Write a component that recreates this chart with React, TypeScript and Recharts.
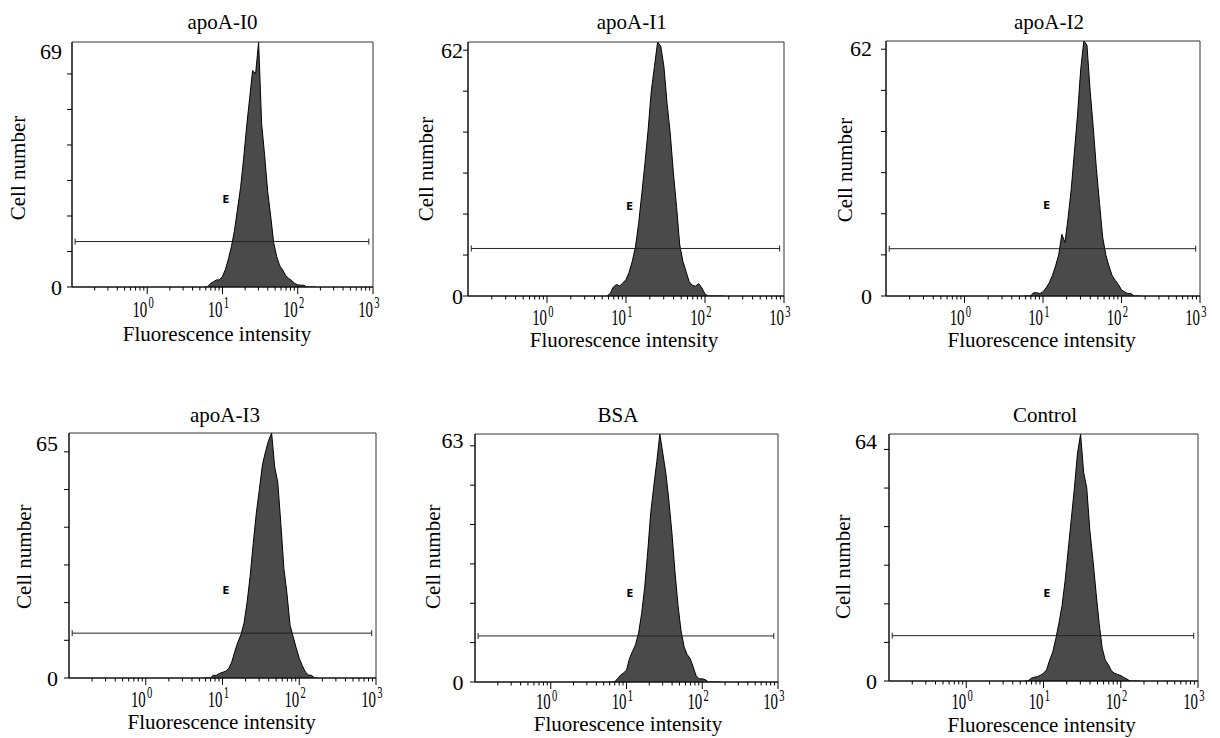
import { ComposedChart, Area, XAxis, YAxis, ReferenceLine, ReferenceDot, ReferenceArea } from 'recharts';

// log-spaced channel centres (0.04 decade apart)
const BINS = [5.75, 6.31, 6.92, 7.59, 8.32, 9.12, 10, 10.96, 12.02, 13.18, 14.45, 15.85, 17.38, 19.05, 20.89, 22.91, 25.12, 27.54, 30.2, 33.11, 36.31, 39.81, 43.65, 47.86, 52.48, 57.54, 63.1, 69.18, 75.86, 83.18, 91.2, 100, 109.6, 120.2, 131.8, 144.5, 158.5, 173.8];

const apoAI0 = [0, 0, 1, 1.5, 2, 2, 3, 5, 8, 11.5, 16, 22, 28, 36, 45, 53, 61, 60, 69, 46, 37, 27, 20, 12.5, 8.6, 6, 4.8, 3.2, 2.4, 1.8, 1, 0.6, 0.5, 0.5, 0, 0, 0, 0];
const apoAI1 = [0, 0.6, 2.2, 2.8, 2.4, 3.2, 4, 5.8, 8.5, 12, 17.7, 25, 32.4, 40.5, 50, 56, 62, 61, 56, 47, 39.7, 30, 21.8, 12.5, 8.5, 6, 3.5, 2.6, 2.4, 3, 2, 0.5, 0, 0, 0, 0, 0, 0];
const apoAI2 = [0, 0, 0, 0.8, 0.8, 0.6, 1, 2, 3.2, 5, 7.3, 10, 15, 13, 19, 26, 35, 44, 55, 62, 61, 50, 41, 31, 22.5, 14.3, 10, 7.3, 5, 3.8, 2.8, 1.5, 1, 0.6, 0.6, 0, 0, 0];
const apoAI3 = [0, 0, 0, 0.7, 0.7, 1.2, 1.5, 1.8, 2.5, 4.2, 7, 9.5, 11.5, 14.5, 20, 27, 35.6, 43.6, 50, 56.5, 60, 63, 65, 56, 52, 41, 29, 22.4, 14, 11, 8, 5.2, 3.3, 1.6, 0.8, 0.7, 0, 0];
const bsa = [0, 0, 0, 0.8, 1.7, 2.3, 3, 6, 7.8, 9.5, 12.5, 17.4, 24, 33, 43, 49.7, 56, 63, 58, 53, 46, 37.8, 28, 19.5, 13, 9, 7, 6, 3.8, 1.5, 0.8, 0.8, 0.6, 0, 0, 0, 0, 0];
const control = [0, 0, 0.7, 1, 1.1, 1.5, 2, 2.9, 5.4, 7.5, 11, 15, 19.5, 26, 34, 42, 50, 59, 64, 54, 50, 39, 31.4, 23, 15, 8.5, 5.4, 4.2, 2.6, 2, 1.7, 1.4, 0.9, 0.5, 0, 0, 0, 0];

const TITLES = ['apoA-I0', 'apoA-I1', 'apoA-I2', 'apoA-I3', 'BSA', 'Control'];
const SERIES = [apoAI0, apoAI1, apoAI2, apoAI3, bsa, control];
const Y_MAX = [69, 62, 62, 65, 63, 64];
const GATE_Y = [12.8, 11.6, 11.5, 11.9, 11.7, 11.75];
const GATE_X = [0.11, 880];
const MARK_X = 11.1;
const MARK_Y = [24.6, 21.9, 22, 23.1, 22.5, 22.75];

const MAJOR_TICKS = [1, 10, 100, 1000];
const MINOR_TICKS = [0.2, 0.3, 0.4, 0.5, 0.6, 0.7, 0.8, 0.9, 2, 3, 4, 5, 6, 7, 8, 9, 20, 30, 40, 50, 60, 70, 80, 90, 200, 300, 400, 500, 600, 700, 800, 900];
const X_TICKS = [...MINOR_TICKS, ...MAJOR_TICKS].sort((a, b) => a - b);
const Y_STEPS = [0, 10, 20, 30, 40, 50, 60];

const SERIF = '"Liberation Serif", "Times New Roman", serif';

// plot boxes and text placement, page pixels
const LAYOUT = [
  { left: 72, top: 42, w: 301, h: 245, gap: 10, topDy: 9, tickDy: 29.5, title: [222.5, 29], xt: [217, 341], yt: [25, 168] },
  { left: 468, top: 42, w: 316, h: 254, gap: 5, topDy: 8, tickDy: 29, title: [631.7, 29], xt: [624, 347], yt: [433.3, 169] },
  { left: 886, top: 41, w: 314, h: 255, gap: 14, topDy: 7, tickDy: 29, title: [1049, 28.5], xt: [1041.7, 347], yt: [851.7, 170] },
  { left: 69, top: 433, w: 307, h: 245, gap: 11, topDy: 10.5, tickDy: 28.5, title: [225, 421.5], xt: [221.7, 729], yt: [30.7, 556.7] },
  { left: 475, top: 434, w: 303, h: 248, gap: 11.5, topDy: 6, tickDy: 27, title: [618, 421.5], xt: [628, 731], yt: [440, 556.7] },
  { left: 889, top: 434, w: 309, h: 247, gap: 12, topDy: 7.5, tickDy: 28, title: [1045, 421.5], xt: [1041.7, 732], yt: [850, 566.7] },
];

const AXIS_W = 72;
const TOP_PAD = 42;
const X_AXIS_H = 40;
const RIGHT_PAD = 30;

function XTick(props: any) {
  const { x, y, payload, dy } = props;
  const v = payload.value;
  const exp = Math.round(Math.log10(v));
  const major = Math.abs(Math.log10(v) - exp) < 1e-6;
  return (
    <g>
      <line x1={x} x2={x} y1={y} y2={y + (major ? 7 : 3.5)} stroke="#000" strokeWidth={1} />
      {major && (
        <text transform={`translate(${x},${y + dy}) scale(0.62,1)`} fontFamily={SERIF} fontSize={24} fill="#000">
          <tspan x={-24}>10</tspan>
          <tspan dx={2} dy={-8.5} fontSize={17}>{exp}</tspan>
        </text>
      )}
    </g>
  );
}

function YTick(props: any) {
  const { x, y, payload, max, gap, topDy } = props;
  const v = payload.value;
  const isMax = v === max;
  return (
    <g>
      {!isMax && <line x1={x - 5} x2={x} y1={y} y2={y} stroke="#000" strokeWidth={1} />}
      {(v === 0 || isMax) && (
        <text x={x - gap} y={y + 7.5 + (isMax ? topDy : 0)} textAnchor="end" fontFamily={SERIF} fontSize={22} fill="#000">
          {v}
        </text>
      )}
    </g>
  );
}

function Histogram({ idx }: { idx: number }) {
  const L = LAYOUT[idx];
  const max = Y_MAX[idx];
  const data = BINS.map((b, i) => ({ x: b, y: SERIES[idx][i] }));
  const cap = (3 * max) / L.h;
  const g = GATE_Y[idx];
  return (
    <div style={{ position: 'absolute', left: L.left - AXIS_W, top: L.top - TOP_PAD }}>
      <ComposedChart
        width={AXIS_W + L.w + RIGHT_PAD}
        height={TOP_PAD + L.h + X_AXIS_H}
        data={data}
        margin={{ top: TOP_PAD, right: RIGHT_PAD, left: 0, bottom: 0 }}
      >
        <XAxis
          type="number"
          dataKey="x"
          scale="log"
          domain={[0.1, 1000]}
          allowDataOverflow
          ticks={X_TICKS}
          interval={0}
          height={X_AXIS_H}
          tickSize={0}
          tickMargin={0}
          tickLine={false}
          axisLine={{ stroke: '#000' }}
          tick={(p: any) => <XTick {...p} dy={L.tickDy} />}
        />
        <YAxis
          type="number"
          domain={[0, max]}
          allowDataOverflow
          ticks={[...Y_STEPS, max]}
          interval={0}
          width={AXIS_W}
          tickSize={0}
          tickMargin={0}
          tickLine={false}
          axisLine={{ stroke: '#000' }}
          tick={(p: any) => <YTick {...p} max={max} gap={L.gap} topDy={L.topDy} />}
        />
        <Area
          type="linear"
          dataKey="y"
          stroke="#000"
          strokeWidth={1}
          fill="#4a4a4a"
          fillOpacity={1}
          baseValue={0}
          isAnimationActive={false}
          dot={false}
          activeDot={false}
        />
        <ReferenceArea x1={0.1} x2={1000} y1={0} y2={max} fill="none" stroke="#333" strokeWidth={1} />
        <ReferenceLine segment={[{ x: GATE_X[0], y: g }, { x: GATE_X[1], y: g }]} stroke="#222" strokeWidth={1} />
        <ReferenceLine segment={[{ x: GATE_X[0], y: g - cap }, { x: GATE_X[0], y: g + cap }]} stroke="#222" strokeWidth={1} />
        <ReferenceLine segment={[{ x: GATE_X[1], y: g - cap }, { x: GATE_X[1], y: g + cap }]} stroke="#222" strokeWidth={1} />
        <ReferenceDot
          x={MARK_X}
          y={MARK_Y[idx]}
          r={0}
          fill="none"
          stroke="none"
          label={{ value: 'E', position: 'center', fontSize: 10, fontWeight: 'bold', fontFamily: '"DejaVu Sans", sans-serif', fill: '#000' }}
        />
      </ComposedChart>
    </div>
  );
}

export default function App() {
  return (
    <div style={{ position: 'absolute', left: 0, top: 0, width: 1220, height: 738, background: '#fff' }}>
      {LAYOUT.map((_, i) => (
        <Histogram key={i} idx={i} />
      ))}
      <svg width={1220} height={738} style={{ position: 'absolute', left: 0, top: 0, pointerEvents: 'none' }}>
        {LAYOUT.map((L, i) => (
          <g key={i} fontFamily={SERIF} fill="#000">
            <text x={L.title[0]} y={L.title[1]} textAnchor="middle" fontSize={21}>
              {TITLES[i]}
            </text>
            <text x={L.xt[0]} y={L.xt[1]} textAnchor="middle" fontSize={21}>
              Fluorescence intensity
            </text>
            <text transform={`translate(${L.yt[0]},${L.yt[1]}) rotate(-90)`} textAnchor="middle" fontSize={21}>
              Cell number
            </text>
          </g>
        ))}
      </svg>
    </div>
  );
}
